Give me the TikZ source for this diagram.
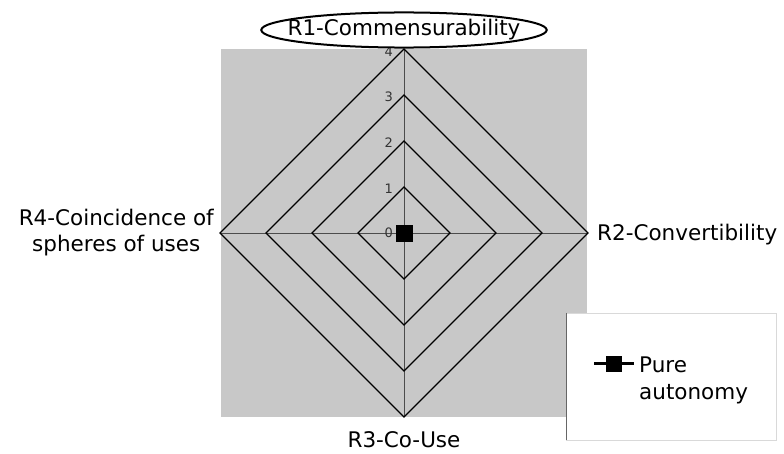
\documentclass[tikz,border=0pt]{standalone}
\usepackage{fontspec}
\setmainfont{DejaVu Sans}
\usetikzlibrary{shapes.geometric}
\definecolor{plotgray}{RGB}{200,200,200}
\tikzset{
  ring/.style={draw=black,line width=1.2pt},
  spoke/.style={draw=black!70,line width=1pt},
  axislabel/.style={font=\fontsize{21.5}{26}\selectfont,inner sep=0pt},
  ticklabel/.style={font=\fontsize{13}{14}\selectfont,text=black!80,inner sep=0pt,anchor=east},
  puremark/.style={fill=black,inner sep=0pt,minimum size=17pt},
}

\begin{document}
\begin{tikzpicture}[x=1pt,y=1pt]
      \useasboundingbox (-404,-220) rectangle (380,233);
      \fill[plotgray] (-183,-184) rectangle (183,184);
      % points on the spokes
      \coordinate (c) at (0,0);
      \coordinate (n1) at (0,46);
      \coordinate (n2) at (0,92);
      \coordinate (n3) at (0,138);
      \coordinate (n4) at (0,184);
      \coordinate (e1) at (46,0);
      \coordinate (e2) at (92,0);
      \coordinate (e3) at (138,0);
      \coordinate (e4) at (184,0);
      \coordinate (s1) at (0,-46);
      \coordinate (s2) at (0,-92);
      \coordinate (s3) at (0,-138);
      \coordinate (s4) at (0,-184);
      \coordinate (w1) at (-46,0);
      \coordinate (w2) at (-92,0);
      \coordinate (w3) at (-138,0);
      \coordinate (w4) at (-184,0);
      \draw[spoke] (n4) -- (s4);
      \draw[spoke] (w4) -- (e4);
      \draw[ring] (n1) -- (e1) -- (s1) -- (w1) -- cycle;
      \draw[ring] (n2) -- (e2) -- (s2) -- (w2) -- cycle;
      \draw[ring] (n3) -- (e3) -- (s3) -- (w3) -- cycle;
      \draw[ring] (n4) -- (e4) -- (s4) -- (w4) -- cycle;
      % scale
      \node[ticklabel] (t0) at (-11,0) {0};
      \node[ticklabel] (t1) at (-11,44.5) {1};
      \node[ticklabel] (t2) at (-11,90.5) {2};
      \node[ticklabel] (t3) at (-11,136) {3};
      \node[ticklabel] (t4) at (-11,181) {4};
      \node[puremark] (p0) at (c) {};
      % axis names
      \node[axislabel,ellipse,draw,fill=white,line width=2pt,inner xsep=-15.5pt,inner ysep=2pt] (r1) at (0,203) {R1-Commensurability};
      \node[axislabel,anchor=base west] (r2) at (193,-7) {R2-Convertibility};
      \node[axislabel,anchor=base] (r3) at (0,-214) {R3-Co-Use};
      \node[axislabel,align=center,anchor=east] (r4) at (-190,0) {R4-Coincidence of\\spheres of uses};
      % legend
      \node[fill=white,draw=black!15,minimum width=210pt,minimum height=127pt,inner sep=0pt] (leg) at (267,-143.5) {};
      \draw[black!60] (leg.north west) -- (leg.south west);
      \coordinate (la) at (190,-130);
      \coordinate (lb) at (230,-130);
      \draw[line width=3pt] (la) -- (lb);
      \node[puremark,minimum size=16pt] (lm) at (210,-131) {};
      \node[axislabel,align=left,anchor=west,font=\fontsize{21.5}{27}\selectfont] (lt) at (235,-147) {Pure\\autonomy};
    \end{tikzpicture}
\end{document}
